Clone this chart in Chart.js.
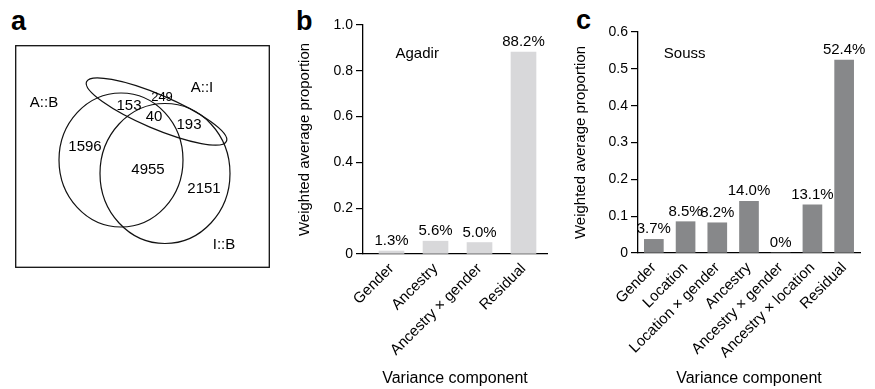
<!DOCTYPE html>
<html>
<head>
<meta charset="utf-8">
<script src="https://cdn.jsdelivr.net/npm/chart.js@4.4.1/dist/chart.umd.min.js"></script>
<style>
  html, body { margin:0; padding:0; background:#fff; }
  body { width:875px; height:389px; position:relative; overflow:hidden; font-family:'Liberation Sans', Arial, sans-serif; }
  .wrap { position:absolute; }
  .letter { position:absolute; font-weight:bold; font-size:27px; color:#000; line-height:1; }
</style>
</head>
<body>
<div class="letter" style="left:11px; top:8px;">a</div>
<div class="letter" style="left:296px; top:8px;">b</div>
<div class="letter" style="left:576px; top:7px;">c</div>

<div class="wrap" style="left:15px; top:45px; width:255px; height:223px;"><canvas id="venn"></canvas></div>
<div class="wrap" style="left:292px; top:0px; width:268px; height:389px;"><canvas id="chartB"></canvas></div>
<div class="wrap" style="left:568px; top:0px; width:307px; height:389px;"><canvas id="chartC"></canvas></div>

<script>
// ---------------- DATA ----------------
// Panel a: Venn diagram counts
const vennSetNames = ['A::B', 'A::I', 'I::B'];
const vennRegionCounts = [153, 249, 40, 193, 1596, 4955, 2151];

// Panel b: Agadir
const agadirCategories = ['Gender', 'Ancestry', 'Ancestry \u00d7 gender', 'Residual'];
const agadirValues = [0.013, 0.056, 0.050, 0.882];
const agadirLabels = ['1.3%', '5.6%', '5.0%', '88.2%'];
const agadirYTicks = [0, 0.2, 0.4, 0.6, 0.8, 1.0];

// Panel c: Souss
const soussCategories = ['Gender', 'Location', 'Location \u00d7 gender', 'Ancestry', 'Ancestry \u00d7 gender', 'Ancestry \u00d7 location', 'Residual'];
const soussValues = [0.037, 0.085, 0.082, 0.140, 0.0, 0.131, 0.524];
const soussLabels = ['3.7%', '8.5%', '8.2%', '14.0%', '0%', '13.1%', '52.4%'];
const soussYTicks = [0, 0.1, 0.2, 0.3, 0.4, 0.5, 0.6];

const yTitle = 'Weighted average proportion';
const xTitle = 'Variance component';

// ---------------- LAYOUT (not data) ----------------
const FONT = "'Liberation Sans', Arial, sans-serif";
const vennLayout = {
  // ellipses in diagram units: [cx, cy, rx, ry, rotationDeg]
  shapes: { 'A::B': [106, 115, 62, 67, 0], 'I::B': [150, 128.5, 65, 70, 0], 'A::I': [141.5, 66.5, 76, 17, 23] },
  setLabelPos: { 'A::B': [29, 58], 'A::I': [187, 43], 'I::B': [209, 200] },
  countPos: [[114, 61], [147, 52], [139, 72], [174, 80], [70, 102], [133, 125], [189, 144]],
  countSize: [15, 13, 15, 15, 15, 15, 15]
};

// ---------------- PANEL A ----------------
const vennPlugin = {
  id: 'vennPlugin',
  afterDatasetsDraw(chart) {
    const {ctx, chartArea, scales: {x, y}} = chart;
    ctx.save();
    ctx.strokeStyle = '#111';
    ctx.lineWidth = 1.3;
    ctx.strokeRect(chartArea.left + 0.7, chartArea.top + 0.7, chartArea.right - chartArea.left - 1.4, chartArea.bottom - chartArea.top - 1.4);
    ctx.lineWidth = 1.2;
    vennSetNames.forEach(name => {
      const [cx, cy, rx, ry, rot] = vennLayout.shapes[name];
      const px = x.getPixelForValue(cx), py = y.getPixelForValue(cy);
      const prx = Math.abs(x.getPixelForValue(cx + rx) - px);
      const pry = Math.abs(y.getPixelForValue(cy + ry) - py);
      ctx.beginPath();
      ctx.ellipse(px, py, prx, pry, rot * Math.PI / 180, 0, Math.PI * 2);
      ctx.stroke();
    });
    ctx.fillStyle = '#000';
    ctx.textAlign = 'center';
    ctx.textBaseline = 'middle';
    chart.data.datasets.forEach((ds, di) => {
      const meta = chart.getDatasetMeta(di);
      meta.data.forEach((el, i) => {
        ctx.font = ds.data[i].size + 'px ' + FONT;
        ctx.fillText(ds.data[i].text, el.x, el.y);
      });
    });
    ctx.restore();
  }
};

new Chart(document.getElementById('venn'), {
  type: 'scatter',
  data: {
    datasets: [
      { data: vennRegionCounts.map((c, i) => ({ x: vennLayout.countPos[i][0], y: vennLayout.countPos[i][1], text: String(c), size: vennLayout.countSize[i] })), pointRadius: 0 },
      { data: vennSetNames.map(n => ({ x: vennLayout.setLabelPos[n][0], y: vennLayout.setLabelPos[n][1], text: n, size: 15 })), pointRadius: 0 }
    ]
  },
  options: {
    responsive: true, maintainAspectRatio: false, animation: false,
    layout: { padding: 0 },
    plugins: { legend: { display: false }, tooltip: { enabled: false } },
    scales: {
      x: { type: 'linear', display: false, min: 0, max: 255 },
      y: { type: 'linear', display: false, min: 0, max: 223, reverse: true }
    }
  },
  plugins: [vennPlugin]
});

// ---------------- BAR PANELS ----------------
const barLabelPlugin = {
  id: 'barLabelPlugin',
  afterDatasetsDraw(chart, args, opts) {
    const {ctx, chartArea, scales: {x}} = chart;
    const meta = chart.getDatasetMeta(0);
    ctx.save();
    ctx.fillStyle = '#000';
    ctx.font = '15px ' + FONT;
    ctx.textAlign = 'center';
    ctx.textBaseline = 'alphabetic';
    meta.data.forEach((el, i) => {
      ctx.fillText(opts.labels[i], el.x, el.y - 6);
    });
    // panel annotation (region name), anchored to the first category
    ctx.textAlign = 'left';
    ctx.fillText(opts.title, x.getPixelForValue(0) + opts.titleDx, chartArea.top + opts.titleDy);
    ctx.restore();
  }
};

function yTick(v) { return Math.abs(v) < 1e-9 ? '0' : v.toFixed(1); }

function yScale(max, ticks, width) {
  return {
    min: 0, max: max,
    afterBuildTicks(s) { s.ticks = ticks.map(v => ({ value: v })); },
    afterFit(s) { s.width = width; },
    grid: { drawOnChartArea: false, drawTicks: true, tickLength: 7, color: '#000', lineWidth: 1.2 },
    border: { display: true, color: '#000', width: 1.3 },
    ticks: { color: '#000', font: { family: FONT, size: 14 }, padding: 3, callback: yTick },
    title: { display: true, text: yTitle, color: '#000', font: { family: FONT, size: 15 }, padding: { top: 4, bottom: 4 } }
  };
}

function xCommon(height) {
  return {
    afterFit(s) { s.height = height; },
    grid: { display: false, drawTicks: false },
    border: { display: true, color: '#000', width: 1.3 },
    ticks: { color: '#000', font: { family: FONT, size: 15 }, minRotation: 45, maxRotation: 45, autoSkip: false, padding: 6 },
    title: { display: true, text: xTitle, color: '#000', font: { family: FONT, size: 16 }, padding: { top: 0, bottom: 1 } }
  };
}

// Panel b (Agadir): linear x axis so the bars sit where they do in the figure
const xB = Object.assign(xCommon(135), {
  type: 'linear', min: -0.648, max: 3.534, offset: false,
  afterBuildTicks(s) { s.ticks = agadirCategories.map((_, i) => ({ value: i })); }
});
xB.ticks.callback = (v) => agadirCategories[v];

new Chart(document.getElementById('chartB'), {
  type: 'bar',
  data: {
    datasets: [{
      data: agadirValues.map((v, i) => ({ x: i, y: v })),
      backgroundColor: '#d8d8da', borderWidth: 0, barThickness: 25
    }]
  },
  options: {
    responsive: true, maintainAspectRatio: false, animation: false,
    layout: { padding: { top: 25, right: 13, left: 0, bottom: 0 } },
    plugins: {
      legend: { display: false }, tooltip: { enabled: false },
      barLabelPlugin: { labels: agadirLabels, title: 'Agadir', titleDx: 4, titleDy: 33 }
    },
    scales: { x: xB, y: yScale(1.0, agadirYTicks, 71) }
  },
  plugins: [barLabelPlugin]
});

// Panel c (Souss)
const xC = Object.assign(xCommon(136), { type: 'category', offset: true });
new Chart(document.getElementById('chartC'), {
  type: 'bar',
  data: {
    labels: soussCategories,
    datasets: [{
      data: soussValues,
      backgroundColor: '#87888a', borderWidth: 0, barThickness: 19
    }]
  },
  options: {
    responsive: true, maintainAspectRatio: false, animation: false,
    layout: { padding: { top: 32, right: 15, left: 0, bottom: 0 } },
    plugins: {
      legend: { display: false }, tooltip: { enabled: false },
      barLabelPlugin: { labels: soussLabels, title: 'Souss', titleDx: 10, titleDy: 26 }
    },
    scales: { x: xC, y: yScale(0.6, soussYTicks, 70) }
  },
  plugins: [barLabelPlugin]
});
</script>
</body>
</html>
